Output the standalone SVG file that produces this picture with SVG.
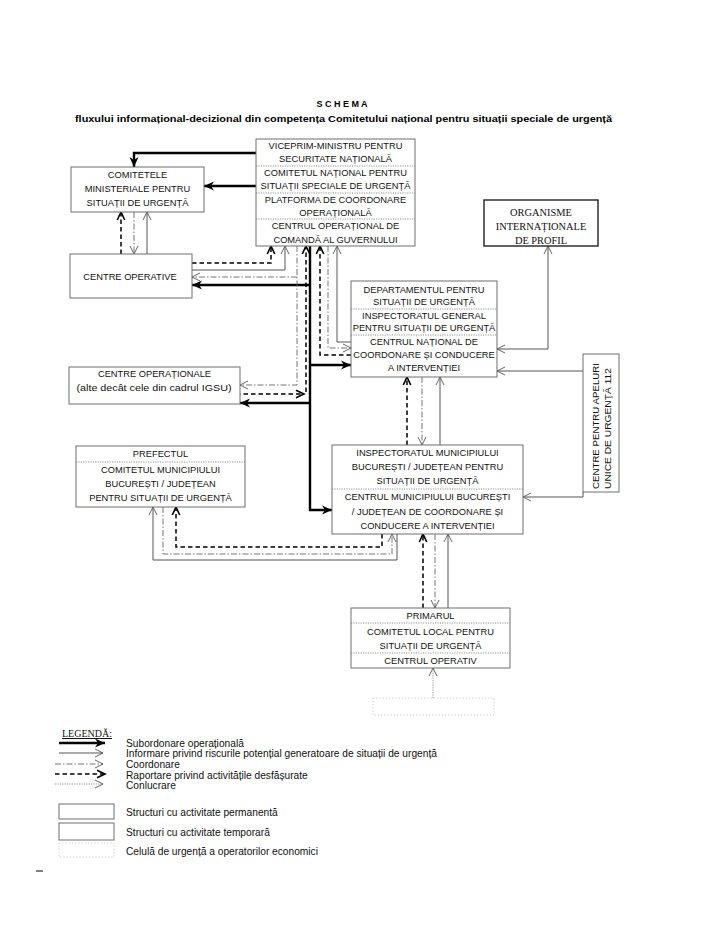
<svg xmlns="http://www.w3.org/2000/svg" width="728" height="942" viewBox="0 0 728 942">
<style>
.t{font-family:"Liberation Sans",Arial,sans-serif;font-size:9.3px;fill:#111;text-anchor:middle;dominant-baseline:central}
.ts{font-family:"Liberation Serif","Times New Roman",serif;font-size:10.4px;fill:#111;text-anchor:middle;dominant-baseline:central}
.lt{font-family:"Liberation Sans",Arial,sans-serif;font-size:10.2px;fill:#111;text-anchor:start;dominant-baseline:central}
.hd{font-family:"Liberation Sans",Arial,sans-serif;font-weight:bold;fill:#000;text-anchor:middle}
.box{fill:#fff;stroke:#6e6e6e;stroke-width:1}
.div{stroke:#777;stroke-width:0.8;stroke-dasharray:1.2 1.2;fill:none}
.thick{fill:none;stroke:#000;stroke-width:2.4;marker-end:url(#hThick)}
.thin{fill:none;stroke:#555;stroke-width:1;marker-end:url(#hOpen)}
.dd{fill:none;stroke:#666;stroke-width:0.9;stroke-dasharray:6 2 1.5 2;marker-end:url(#hOpen)}
.da{fill:none;stroke:#000;stroke-width:1.5;stroke-dasharray:4.5 3;marker-end:url(#hBold)}
.dt{fill:none;stroke:#777;stroke-width:0.8;stroke-dasharray:1.2 1.2;marker-end:url(#hOpen)}
</style>
<defs>
<marker id="hThick" markerUnits="userSpaceOnUse" markerWidth="11" markerHeight="10" refX="10" refY="5" orient="auto" overflow="visible">
<path d="M0,0.5 L10,5 L0,9.5 L3,5 Z" fill="#000"/>
</marker>
<marker id="hOpen" markerUnits="userSpaceOnUse" markerWidth="9" markerHeight="9" refX="8" refY="4" orient="auto-start-reverse" overflow="visible">
<path d="M0,0 L8,4 L0,8" fill="none" stroke="#555" stroke-width="0.9"/>
</marker>
<marker id="hBold" markerUnits="userSpaceOnUse" markerWidth="9" markerHeight="9" refX="8" refY="4" orient="auto" overflow="visible">
<path d="M0,0.3 L8,4 L0,7.7" fill="none" stroke="#000" stroke-width="1.6"/>
</marker>
</defs>
<rect width="728" height="942" fill="#fff"/>

<g id="title">
<text class="hd" x="342" y="107" font-size="9">S C H E M A</text>
<text class="hd" x="343.5" y="122" font-size="9.5" textLength="537" lengthAdjust="spacingAndGlyphs">fluxului informațional-decizional din competența Comitetului național pentru situații speciale de urgență</text>
</g>

<g id="connectors">
<path class="thick" d="M256,153 H134 V167"/>
<path class="thick" d="M256,186 H204"/>
<path class="thick" d="M310,246 V510 H332"/>
<path class="thick" d="M310,285 H192"/>
<path class="thick" d="M310,365 H351"/>
<path class="thick" d="M310,403 H240"/>

<path class="thin" d="M147,254 V212"/>
<path class="thin" d="M192,270 H285 V246"/>
<path class="thin" d="M351,342 H337 V246"/>
<path class="thin" d="M440,445 V377"/>
<path class="thin" d="M583,371 H497"/>
<path class="thin" d="M583,492 V497 H523"/>
<path class="thin" d="M497,349 H548 V246" marker-start="url(#hOpen)"/>
<path class="thin" d="M397,534 V560 H153 V507"/>
<path class="thin" d="M448,608 V534"/>

<path class="dd" d="M134,212 V254"/>
<path class="dd" d="M297,246 V385 H240"/>
<path class="dd" d="M297,277 H192"/>
<path class="dd" d="M328,246 V348 H351"/>
<path class="dd" d="M422,377 V445"/>
<path class="dd" d="M163,507 V554 H392 V534"/>
<path class="dd" d="M435,534 V608"/>

<path class="da" d="M121,254 V212"/>
<path class="da" d="M192,263 H271 V246"/>
<path class="da" d="M236,394 H304"/>
<path class="da" d="M306,392 V246"/>
<path class="da" d="M351,355 H320 V246"/>
<path class="da" d="M407,445 V377"/>
<path class="da" d="M382,534 V547 H176 V507"/>
<path class="da" d="M423,608 V534"/>

<path class="dt" d="M433,698 V668"/>
</g>

<g id="node-guvern">
<rect class="box" x="256" y="139" width="159" height="107"/>
<line class="div" x1="256" y1="166" x2="415" y2="166"/>
<line class="div" x1="256" y1="193" x2="415" y2="193"/>
<line class="div" x1="256" y1="219" x2="415" y2="219"/>
<text class="t" x="335.5" y="146">VICEPRIM-MINISTRU PENTRU</text>
<text class="t" x="335.5" y="159">SECURITATE NAȚIONALĂ</text>
<text class="t" x="335.5" y="173">COMITETUL NAȚIONAL PENTRU</text>
<text class="t" x="335.5" y="186">SITUAȚII SPECIALE DE URGENȚĂ</text>
<text class="t" x="335.5" y="200">PLATFORMA DE COORDONARE</text>
<text class="t" x="335.5" y="213">OPERAȚIONALĂ</text>
<text class="t" x="335.5" y="226">CENTRUL OPERAȚIONAL DE</text>
<text class="t" x="335.5" y="240">COMANDĂ AL GUVERNULUI</text>
</g>

<g id="node-comitetele">
<rect class="box" x="71" y="167" width="133" height="45"/>
<text class="t" x="137.5" y="175">COMITETELE</text>
<text class="t" x="137.5" y="189">MINISTERIALE PENTRU</text>
<text class="t" x="137.5" y="203">SITUAȚII DE URGENȚĂ</text>
</g>

<g id="node-centre-operative">
<rect class="box" x="70" y="254" width="122" height="44"/>
<text class="t" x="130" y="277">CENTRE OPERATIVE</text>
</g>

<g id="node-organisme">
<rect x="484" y="200" width="114" height="46" fill="#fff" stroke="#222" stroke-width="1.4"/>
<text class="ts" x="541" y="212">ORGANISME</text>
<text class="ts" x="541" y="226">INTERNAȚIONALE</text>
<text class="ts" x="541" y="240">DE PROFIL</text>
</g>

<g id="node-dsu">
<rect class="box" x="351" y="281" width="146" height="96"/>
<line class="div" x1="351" y1="309" x2="497" y2="309"/>
<line class="div" x1="351" y1="335" x2="497" y2="335"/>
<text class="t" x="424" y="290">DEPARTAMENTUL PENTRU</text>
<text class="t" x="424" y="302">SITUAȚII DE URGENȚĂ</text>
<text class="t" x="424" y="316">INSPECTORATUL GENERAL</text>
<text class="t" x="424" y="328">PENTRU SITUAȚII DE URGENȚĂ</text>
<text class="t" x="424" y="342">CENTRUL NAȚIONAL DE</text>
<text class="t" x="424" y="355">COORDONARE ȘI CONDUCERE</text>
<text class="t" x="424" y="368">A INTERVENȚIEI</text>
</g>

<g id="node-centre-operationale">
<rect class="box" x="69" y="367" width="171" height="37"/>
<text class="t" x="154.5" y="374">CENTRE OPERAȚIONALE</text>
<text class="t" x="154" y="388" font-size="9.8" textLength="155" lengthAdjust="spacingAndGlyphs">(alte decât cele din cadrul IGSU)</text>
</g>

<g id="node-112">
<rect class="box" x="583" y="354" width="36" height="138"/>
<text class="t" style="text-anchor:start" transform="translate(596,489) rotate(-90)" textLength="126" lengthAdjust="spacingAndGlyphs">CENTRE  PENTRU  APELURI</text>
<text class="t" style="text-anchor:start" transform="translate(608,489) rotate(-90)" textLength="121" lengthAdjust="spacingAndGlyphs">UNICE DE URGENȚĂ 112</text>
</g>

<g id="node-prefectul">
<rect class="box" x="76" y="446" width="169" height="61"/>
<line class="div" x1="76" y1="462" x2="245" y2="462"/>
<text class="t" x="160.5" y="454">PREFECTUL</text>
<text class="t" x="160.5" y="470">COMITETUL MUNICIPIULUI</text>
<text class="t" x="160.5" y="484">BUCUREȘTI / JUDEȚEAN</text>
<text class="t" x="160.5" y="498">PENTRU SITUAȚII DE URGENȚĂ</text>
</g>

<g id="node-inspectorat">
<rect class="box" x="332" y="445" width="191" height="89"/>
<line class="div" x1="332" y1="489" x2="523" y2="489"/>
<text class="t" x="427.5" y="453">INSPECTORATUL MUNICIPIULUI</text>
<text class="t" x="427.5" y="467">BUCUREȘTI / JUDEȚEAN PENTRU</text>
<text class="t" x="427.5" y="481">SITUAȚII DE URGENȚĂ</text>
<text class="t" x="427.5" y="497">CENTRUL  MUNICIPIULUI BUCUREȘTI</text>
<text class="t" x="427.5" y="512">/ JUDEȚEAN DE COORDONARE ȘI</text>
<text class="t" x="427.5" y="526">CONDUCERE A INTERVENȚIEI</text>
</g>

<g id="node-primarul">
<rect class="box" x="351" y="608" width="159" height="60"/>
<line class="div" x1="351" y1="623" x2="510" y2="623"/>
<line class="div" x1="351" y1="653" x2="510" y2="653"/>
<text class="t" x="430.5" y="616">PRIMARUL</text>
<text class="t" x="430.5" y="632">COMITETUL LOCAL PENTRU</text>
<text class="t" x="430.5" y="646">SITUAȚII DE URGENȚĂ</text>
<text class="t" x="430.5" y="661">CENTRUL OPERATIV</text>
</g>

<g id="node-celula">
<rect x="373" y="698" width="121" height="17" fill="none" stroke="#bbb" stroke-width="0.8" stroke-dasharray="1.2 2"/>
</g>

<g id="legend">
<text x="62" y="737" font-family="Liberation Serif, Times New Roman, serif" font-size="10" fill="#111" text-decoration="underline">LEGENDĂ:</text>
<path class="thick" d="M59,743 H105"/>
<path class="thin" d="M59,753 H103"/>
<path class="dd" d="M55,764 H103"/>
<path class="da" d="M55,774 H105"/>
<path class="dt" d="M55,784 H103"/>
<text class="lt" x="126" y="743">Subordonare operațională</text>
<text class="lt" x="126" y="753">Informare privind riscurile potențial generatoare de situații de urgență</text>
<text class="lt" x="126" y="764">Coordonare</text>
<text class="lt" x="126" y="775">Raportare privind activitățile desfășurate</text>
<text class="lt" x="126" y="785">Conlucrare</text>
<rect class="box" x="59" y="804" width="55" height="15"/>
<rect class="box" x="59" y="823" width="55" height="17"/>
<rect x="59" y="843" width="55" height="14" fill="none" stroke="#bbb" stroke-width="0.8" stroke-dasharray="1.2 2"/>
<text class="lt" x="126" y="812">Structuri cu activitate permanentă</text>
<text class="lt" x="126" y="832">Structuri cu activitate temporară</text>
<text class="lt" x="126" y="851">Celulă de urgență a operatorilor economici</text>
</g>

<line x1="36" y1="871" x2="43" y2="871" stroke="#555" stroke-width="1.5"/>
</svg>
